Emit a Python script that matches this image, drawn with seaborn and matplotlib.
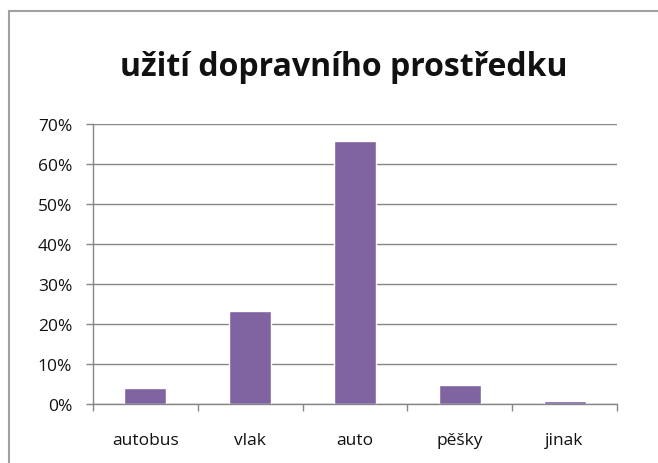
import matplotlib
matplotlib.use("Agg")
import matplotlib.pyplot as plt
import matplotlib.ticker as mticker
from matplotlib.lines import Line2D
import seaborn as sns
import pandas as pd

# Data (share in %)
categories = ["autobus", "vlak", "auto", "pěšky", "jinak"]
shares = [3.9, 23.2, 65.8, 4.8, 0.7]
title_text = "užití dopravního prostředku"

df = pd.DataFrame({"kategorie": categories, "podil": shares})

sns.set_style("white")
plt.rcParams['font.family'] = ['Open Sans', 'DejaVu Sans']

fig = plt.figure(figsize=(6.58, 4.64), dpi=100)
ax = fig.add_axes([93 / 658, 59 / 464, 524 / 658, 280 / 464])

sns.barplot(data=df, x="kategorie", y="podil", order=categories,
            color="#8064A2", saturation=1, width=0.4, ax=ax)

# Axes styling (Excel 2007 look)
ax.set_xlim(-0.5, 4.5)
ax.set_ylim(0, 70)
ax.yaxis.set_major_locator(mticker.MultipleLocator(10))
ax.yaxis.set_major_formatter(mticker.PercentFormatter(decimals=0))
ax.grid(axis="y", color="#868686", linewidth=1)
ax.set_axisbelow(True)
for side in ["top", "right"]:
    ax.spines[side].set_visible(False)
for side in ["left", "bottom"]:
    ax.spines[side].set_color("#868686")
    ax.spines[side].set_linewidth(1)

ax.set_xlabel("")
ax.set_ylabel("")
ax.tick_params(axis="y", direction="out", length=5, width=1, color="#868686",
               labelsize=12.5, pad=10, left=True, labelcolor="#111111")
ax.tick_params(axis="x", which="major", length=0, labelsize=12.5, pad=20,
               labelcolor="#111111")
ax.set_xticks([i - 0.5 for i in range(len(categories) + 1)], minor=True)
ax.tick_params(axis="x", which="minor", direction="out", length=5, width=1,
               color="#868686", bottom=True)

fig.text(344 / 658, 1 - 68 / 464, title_text, ha="center", va="center",
         fontsize=23, fontweight="bold", color="#111111")

# Chart-area frame: only the left and top edges show in the reference
frame_x = 8.5 / 658
frame_y = 1 - 11.5 / 464
fig.add_artist(Line2D([frame_x, frame_x], [0, frame_y], transform=fig.transFigure,
                      color="#a0a0a0", linewidth=1.5))
fig.add_artist(Line2D([frame_x, 1], [frame_y, frame_y], transform=fig.transFigure,
                      color="#a0a0a0", linewidth=1.5))

fig.savefig("out.png", dpi=100, facecolor="white")
